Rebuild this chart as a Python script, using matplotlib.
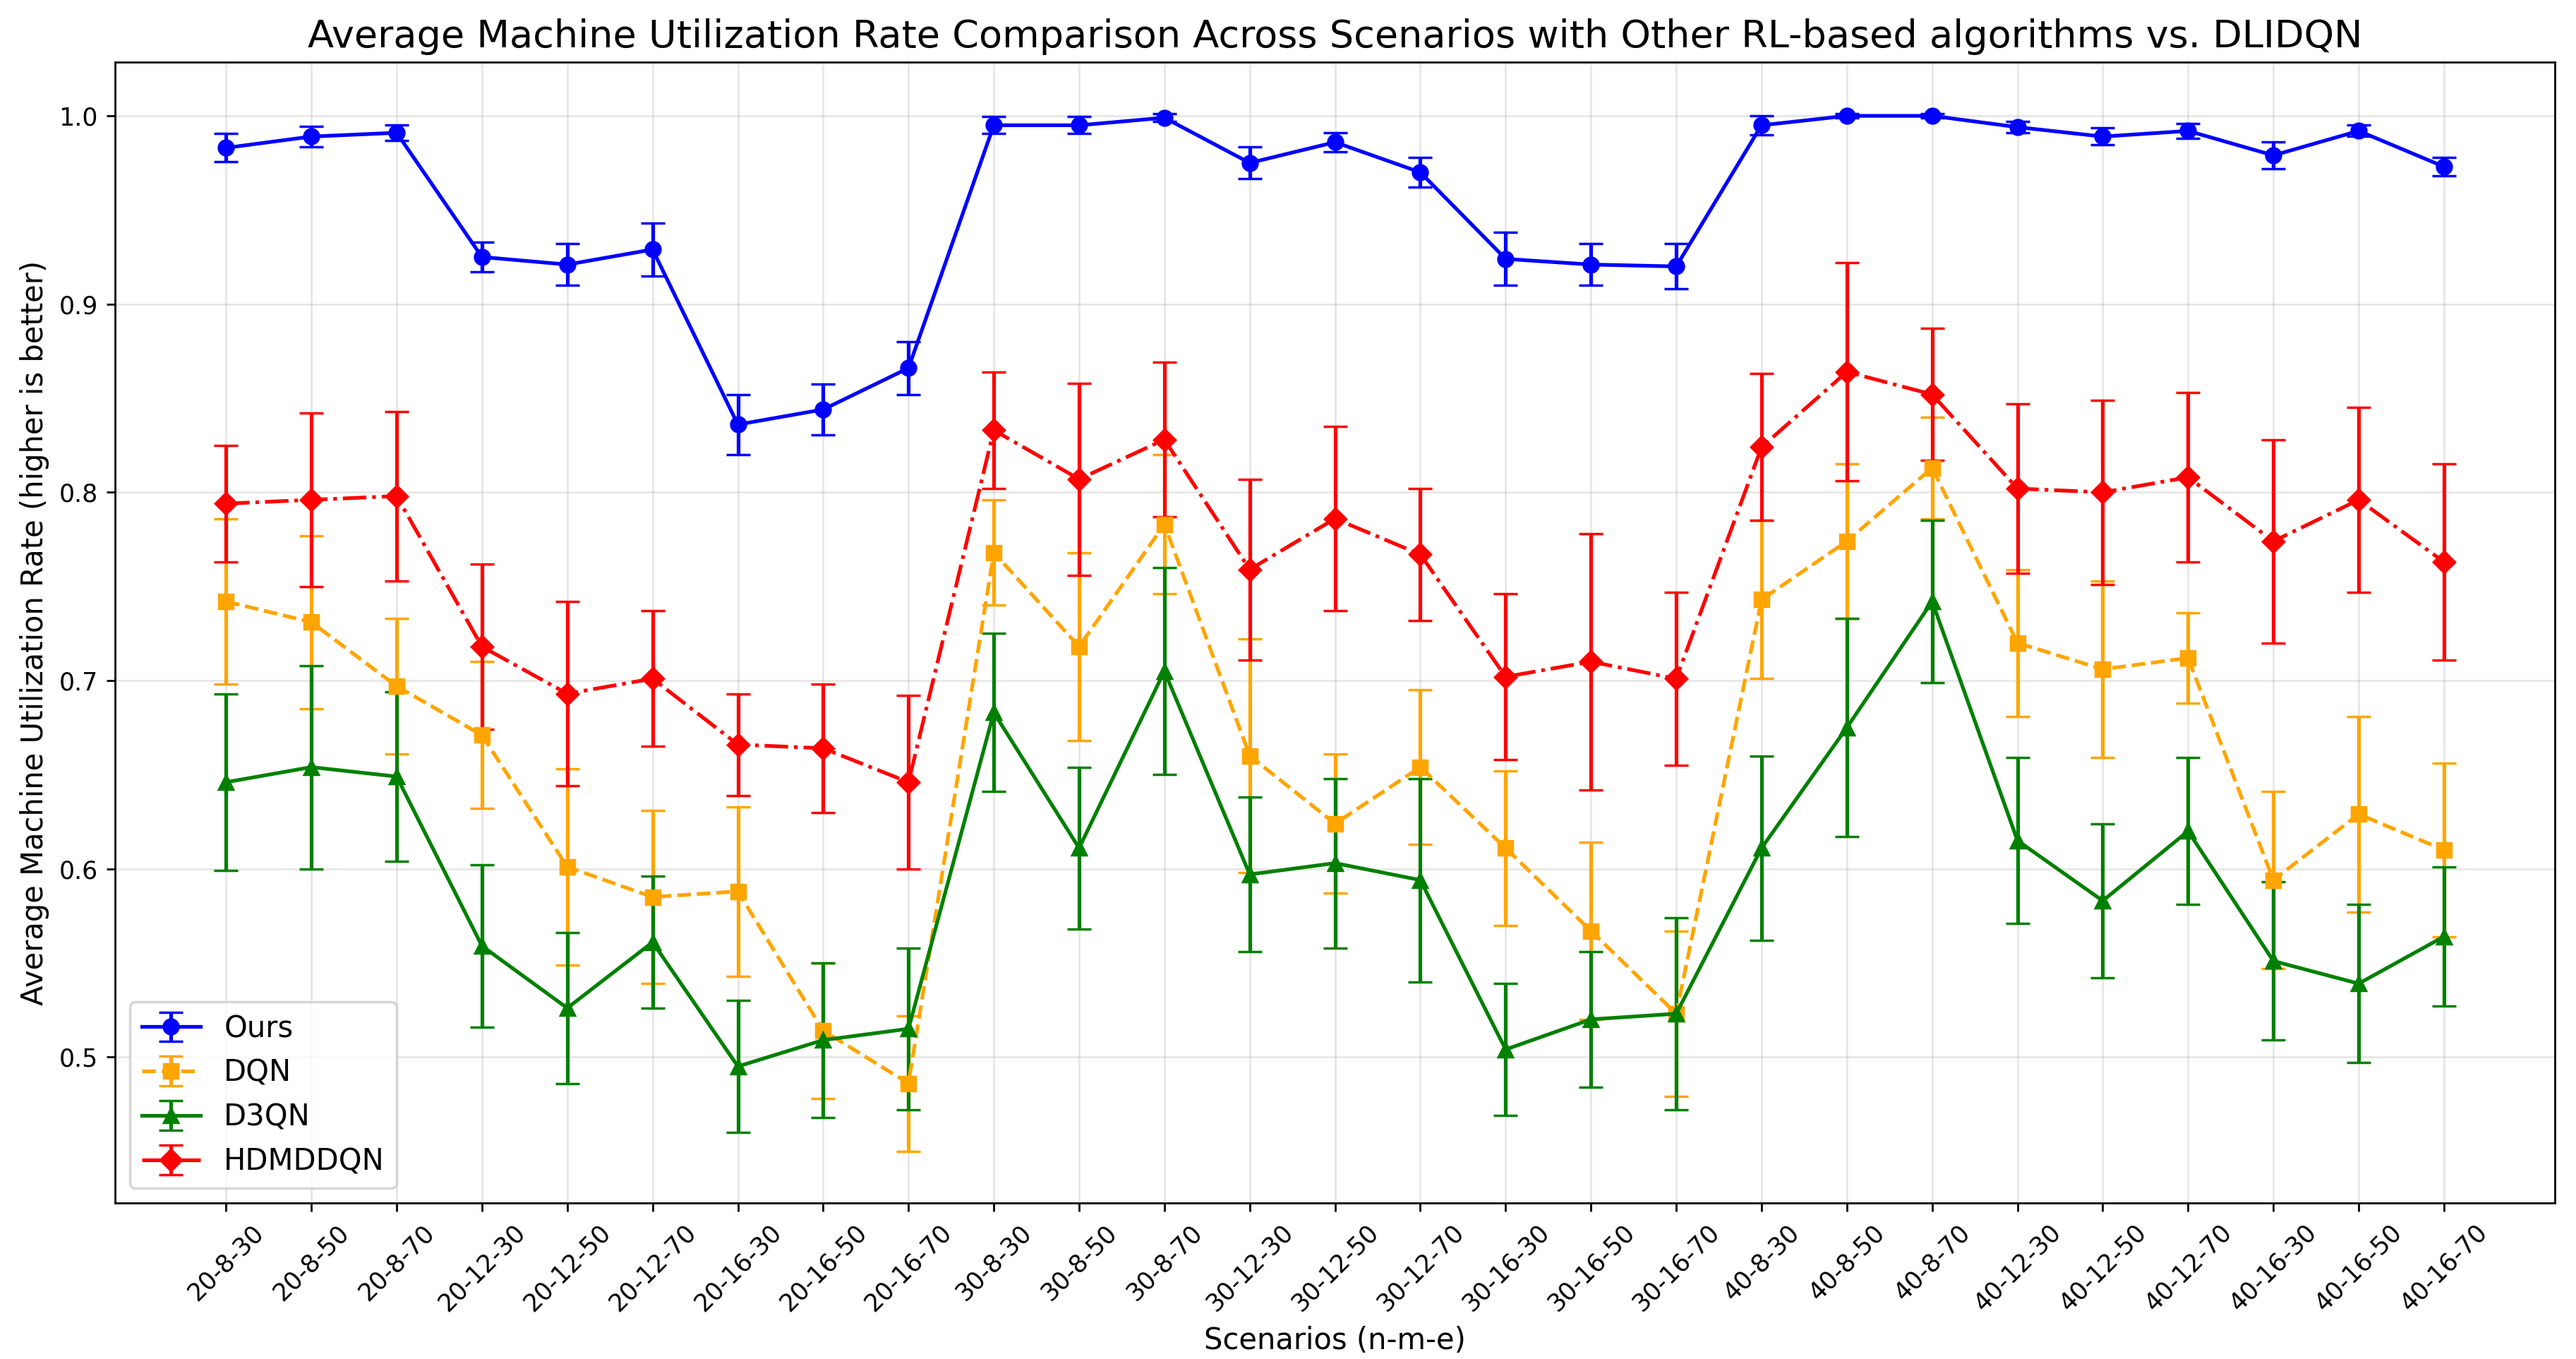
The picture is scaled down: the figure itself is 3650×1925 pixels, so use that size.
import matplotlib
matplotlib.use('Agg')
import matplotlib.pyplot as plt
import numpy as np

# scenarios n-m-e
scenarios = ['20-8-30', '20-8-50', '20-8-70', '20-12-30', '20-12-50', '20-12-70',
             '20-16-30', '20-16-50', '20-16-70', '30-8-30', '30-8-50', '30-8-70',
             '30-12-30', '30-12-50', '30-12-70', '30-16-30', '30-16-50', '30-16-70',
             '40-8-30', '40-8-50', '40-8-70', '40-12-30', '40-12-50', '40-12-70',
             '40-16-30', '40-16-50', '40-16-70']

#Ours (DLIDQN)
ours_mean = [0.983, 0.989, 0.991, 0.925, 0.921, 0.929, 0.836, 0.844, 0.866,
             0.995, 0.995, 0.999, 0.975, 0.986, 0.970, 0.924, 0.921, 0.920,
             0.995, 1.000, 1.000, 0.994, 0.989, 0.992, 0.979, 0.992, 0.973]
ours_std = [0.0075, 0.0053, 0.004, 0.008, 0.011, 0.014, 0.016, 0.0136, 0.014,
            0.0045, 0.0045, 0.002, 0.0085, 0.005, 0.008, 0.014, 0.011, 0.012,
            0.005, 0.001, 0.001, 0.003, 0.0045, 0.004, 0.007, 0.003, 0.005]

#DQN
dqn_mean = [0.742, 0.731, 0.697, 0.671, 0.601, 0.585, 0.588, 0.514, 0.486,
            0.768, 0.718, 0.783, 0.660, 0.624, 0.654, 0.611, 0.567, 0.523,
            0.743, 0.774, 0.813, 0.720, 0.706, 0.712, 0.594, 0.629, 0.610]
dqn_std = [0.044, 0.046, 0.036, 0.039, 0.052, 0.046, 0.045, 0.036, 0.036,
           0.028, 0.050, 0.037, 0.062, 0.037, 0.041, 0.041, 0.047, 0.044,
           0.042, 0.041, 0.027, 0.039, 0.047, 0.024, 0.047, 0.052, 0.046]

#D3QN
d3qn_mean = [0.646, 0.654, 0.649, 0.559, 0.526, 0.561, 0.495, 0.509, 0.515,
             0.683, 0.611, 0.705, 0.597, 0.603, 0.594, 0.504, 0.520, 0.523,
             0.611, 0.675, 0.742, 0.615, 0.583, 0.620, 0.551, 0.539, 0.564]
d3qn_std = [0.047, 0.054, 0.045, 0.043, 0.040, 0.035, 0.035, 0.041, 0.043,
            0.042, 0.043, 0.055, 0.041, 0.045, 0.054, 0.035, 0.036, 0.051,
            0.049, 0.058, 0.043, 0.044, 0.041, 0.039, 0.042, 0.042, 0.037]

#HDMDDQN
hdm_mean = [0.794, 0.796, 0.798, 0.718, 0.693, 0.701, 0.666, 0.664, 0.646,
            0.833, 0.807, 0.828, 0.759, 0.786, 0.767, 0.702, 0.710, 0.701,
            0.824, 0.864, 0.852, 0.802, 0.800, 0.808, 0.774, 0.796, 0.763]
hdm_std = [0.031, 0.046, 0.045, 0.044, 0.049, 0.036, 0.027, 0.034, 0.046,
           0.031, 0.051, 0.041, 0.048, 0.049, 0.035, 0.044, 0.068, 0.046,
           0.039, 0.058, 0.035, 0.045, 0.049, 0.045, 0.054, 0.049, 0.052]

x = np.arange(len(scenarios))

fig, ax = plt.subplots(figsize=(14.6, 7.7), dpi=250)
fig.subplots_adjust(left=0.0447, right=0.9918, top=0.9543, bottom=0.1148)

ax.errorbar(x, ours_mean, yerr=ours_std, fmt='o-', color='blue', capsize=5,
            elinewidth=1.5, label='Ours')
ax.errorbar(x, dqn_mean, yerr=dqn_std, fmt='s--', color='orange', capsize=5,
            elinewidth=1.5, label='DQN')
ax.errorbar(x, d3qn_mean, yerr=d3qn_std, fmt='^-', color='green', capsize=5,
            elinewidth=1.5, label='D3QN')
ax.errorbar(x, hdm_mean, yerr=hdm_std, fmt='D-.', color='red', capsize=5,
            elinewidth=1.5, label='HDMDDQN')

ax.set_xticks(x)
ax.set_xticklabels(scenarios, rotation=45)
ax.set_title('Average Machine Utilization Rate Comparison Across Scenarios with Other RL-based algorithms vs. DLIDQN',
             fontsize=15.6)
ax.set_xlabel('Scenarios (n-m-e)', fontsize=12)
ax.set_ylabel('Average Machine Utilization Rate (higher is better)', fontsize=12)
ax.legend(loc='lower left', fontsize=12)
ax.grid(True, alpha=0.3)

fig.savefig('out.png', dpi=250)
